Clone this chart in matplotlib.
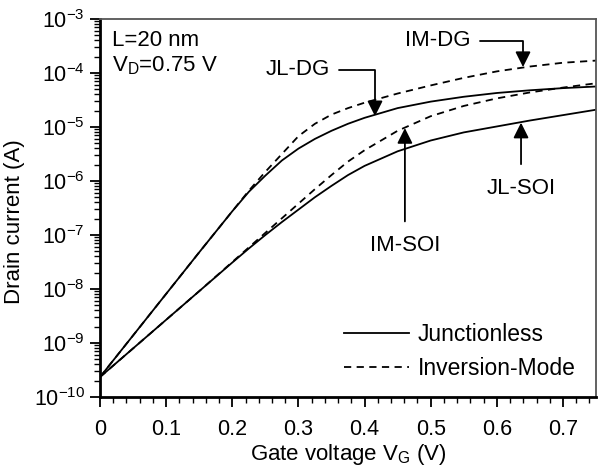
import matplotlib
matplotlib.use("Agg")
import matplotlib.pyplot as plt
import numpy as np
from matplotlib.ticker import MultipleLocator, LogLocator

plt.rcParams['font.family'] = ['Liberation Sans', 'DejaVu Sans']
plt.rcParams['mathtext.fontset'] = 'custom'
plt.rcParams['mathtext.rm'] = 'Liberation Sans'
plt.rcParams['mathtext.it'] = 'Liberation Sans'
plt.rcParams['axes.unicode_minus'] = False

# gate voltage (V)
vg = [0.0, 0.05, 0.1, 0.15, 0.2, 0.225, 0.25, 0.275, 0.3, 0.325, 0.35, 0.375,
      0.4, 0.45, 0.5, 0.55, 0.6, 0.65, 0.7, 0.75]

# log10 of drain current (A)
jl_dg_log = [-9.63, -8.86, -8.09, -7.32, -6.56, -6.20, -5.90, -5.62, -5.40, -5.22,
             -5.07, -4.94, -4.83, -4.65, -4.53, -4.44, -4.37, -4.32, -4.28, -4.25]
im_dg_log = [-9.63, -8.86, -8.09, -7.32, -6.56, -6.18, -5.83, -5.50, -5.17, -4.94,
             -4.77, -4.65, -4.55, -4.38, -4.23, -4.09, -3.97, -3.88, -3.81, -3.77]
jl_soi_log = [-9.63, -9.10, -8.57, -8.04, -7.51, -7.25, -7.00, -6.76, -6.53, -6.30,
              -6.09, -5.89, -5.72, -5.45, -5.25, -5.10, -4.99, -4.88, -4.78, -4.68]
im_soi_log = [-9.63, -9.10, -8.57, -8.04, -7.50, -7.23, -6.96, -6.69, -6.42, -6.15,
              -5.89, -5.64, -5.43, -5.07, -4.80, -4.61, -4.47, -4.36, -4.27, -4.19]

jl_dg = 10 ** np.array(jl_dg_log)
im_dg = 10 ** np.array(im_dg_log)
jl_soi = 10 ** np.array(jl_soi_log)
im_soi = 10 ** np.array(im_soi_log)

fig = plt.figure(figsize=(6.04, 4.67), dpi=100)
ax = fig.add_axes([0.1656, 0.1499, 0.8212, 0.8094])

lw = 1.3
dash = (0, (4, 3))
ax.plot(vg, jl_dg, color='black', lw=lw, label='Junctionless')
ax.plot(vg, jl_soi, color='black', lw=lw)
ax.plot(vg, im_dg, color='black', lw=lw, linestyle=dash, label='Inversion-Mode')
ax.plot(vg, im_soi, color='black', lw=lw, linestyle=dash)

ax.set_yscale('log')
ax.set_xlim(0, 0.75)
ax.set_ylim(1e-10, 1e-3)
ax.xaxis.set_minor_locator(MultipleLocator(0.02))
ax.yaxis.set_major_locator(LogLocator(base=10, numticks=20))
ax.yaxis.set_minor_locator(LogLocator(base=10, subs=range(2, 10), numticks=20))
ax.set_xticks([0, 0.1, 0.2, 0.3, 0.4, 0.5, 0.6, 0.7])
ax.set_xticklabels(['0', '0.1', '0.2', '0.3', '0.4', '0.5', '0.6', '0.7'])

ax.tick_params(which='major', direction='out', length=7, width=1.3, labelsize=15.5, color='black')
ax.tick_params(which='minor', direction='out', length=4, width=1.0, color='black')
ax.tick_params(axis='x', pad=9)
ax.tick_params(axis='y', pad=4)

for s in ['left', 'bottom']:
    ax.spines[s].set_linewidth(2.0)
    ax.spines[s].set_color('black')
for s in ['top', 'right']:
    ax.spines[s].set_linewidth(1.3)
    ax.spines[s].set_color('#555555')

ax.set_xlabel('Gate voltage V$_\\mathrm{G}$ (V)', fontsize=16, labelpad=1)
ax.set_ylabel('Drain current (A)', fontsize=16)
ax.yaxis.set_label_coords(-0.152, 0.463)

ax.text(0.024, 0.944, 'L=20 nm', transform=ax.transAxes, fontsize=16, va='center', ha='left')
ax.text(0.024, 0.876, 'V$_\\mathrm{D}$=0.75 V', transform=ax.transAxes, fontsize=16, va='center', ha='left')

arrow = dict(arrowstyle='-|>', color='black', lw=1.3, mutation_scale=23,
             shrinkA=5, shrinkB=0, connectionstyle='angle,angleA=0,angleB=90,rad=0')
ax.annotate('JL-DG', xy=(0.4158, 10 ** -4.80), xytext=(0.2986, 10 ** -3.944),
            fontsize=16, ha='center', va='center', arrowprops=arrow)
ax.annotate('IM-DG', xy=(0.6396, 10 ** -3.89), xytext=(0.511, 10 ** -3.407),
            fontsize=16, ha='center', va='center', arrowprops=arrow)

up = dict(arrowstyle='-|>', color='black', lw=1.3, mutation_scale=23, shrinkA=8, shrinkB=0)
ax.annotate('IM-SOI', xy=(0.461, 10 ** -5.02), xytext=(0.461, 10 ** -7.2),
            fontsize=16, ha='center', va='center', arrowprops=up)
ax.annotate('JL-SOI', xy=(0.6366, 10 ** -4.92), xytext=(0.6366, 10 ** -6.14),
            fontsize=16, ha='center', va='center', arrowprops=up)

ax.legend(loc='lower left', bbox_to_anchor=(0.451, -0.01), frameon=False, fontsize=16.5,
          handlelength=2.8, handletextpad=0.4, labelspacing=0.5)

fig.savefig('out.png', dpi=100)
